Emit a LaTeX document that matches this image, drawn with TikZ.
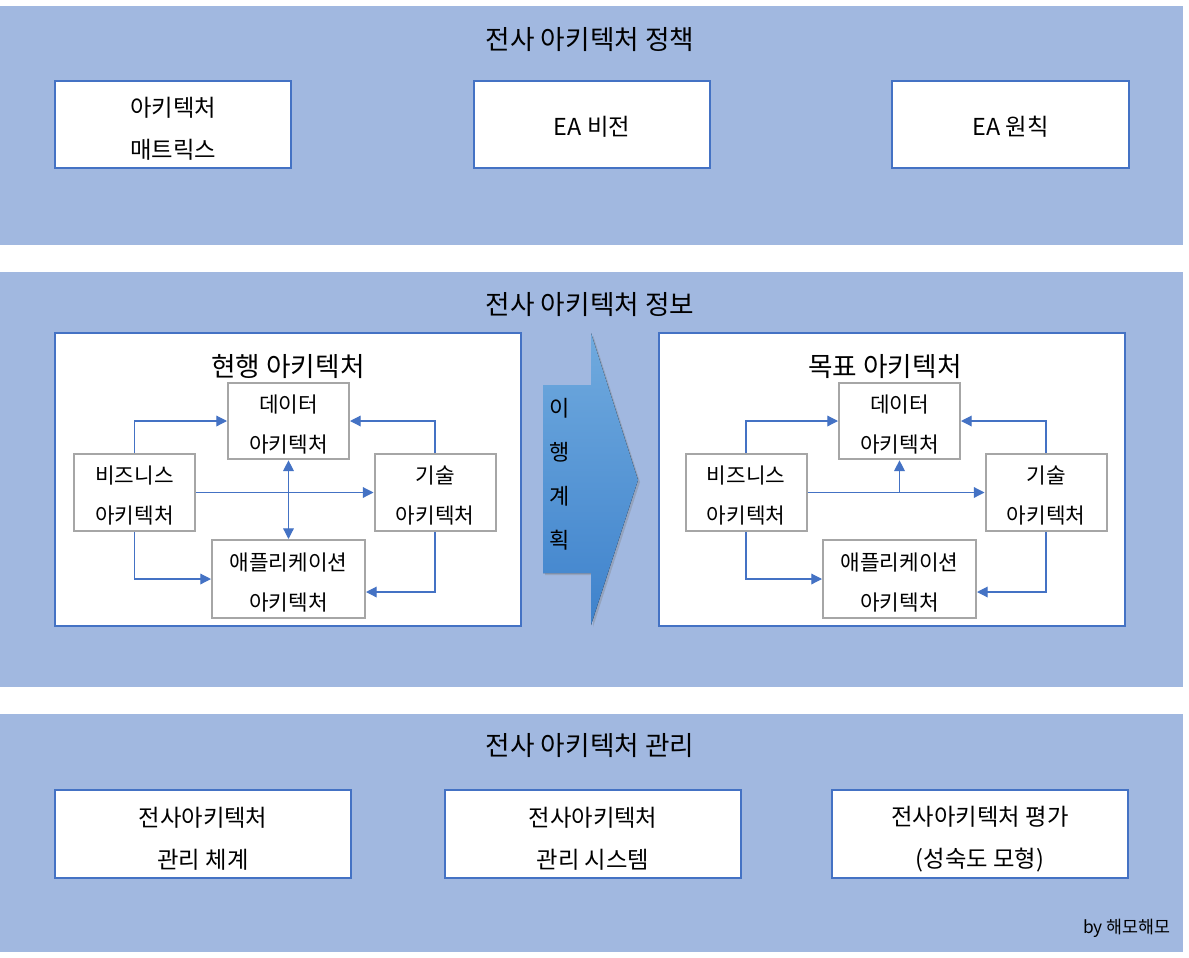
\documentclass[tikz,border=0pt]{standalone}
\usepackage{fontspec}
\setmainfont{Noto Sans CJK KR}
\usetikzlibrary{arrows.meta,shadows}
\definecolor{band}{RGB}{161,184,224}
\definecolor{edgeblue}{RGB}{68,114,196}
\definecolor{boxgray}{RGB}{166,166,166}
\definecolor{arrtop}{RGB}{112,170,222}
\definecolor{arrbot}{RGB}{62,130,204}
\tikzset{
  bigbox/.style={draw=edgeblue,line width=1.6pt,fill=white,inner sep=0pt},
  panel/.style={draw=edgeblue,line width=1.4pt,fill=white,inner sep=0pt},
  subbox/.style={draw=boxgray,line width=1.5pt,fill=white,inner sep=0pt,
     minimum width=90.75pt,minimum height=57.5pt},
  bigtext/.style={align=center,inner sep=0pt,font=\fontsize{17.5pt}{31.5pt}\selectfont},
  subtext/.style={align=center,inner sep=0pt,font=\fontsize{16pt}{30pt}\selectfont},
  twoline/.style={label={[bigtext,yshift=-3.5pt]center:{#1}}},
  oneline/.style={label={[bigtext,yshift=-2pt]center:{#1}}},
  subline/.style={label={[subtext,yshift=-2.6pt]center:{#1}}},
  titletext/.style={font=\fontsize{20pt}{22pt}\selectfont,inner sep=0pt},
  conn/.style={draw=edgeblue,line width=0.9pt,-{Triangle[length=8pt,width=8pt]}},
  dconn/.style={draw=edgeblue,line width=0.9pt,{Triangle[length=8pt,width=8pt]}-{Triangle[length=8pt,width=8pt]}}
}
\begin{document}
\begin{tikzpicture}[x=0.75pt,y=-0.75pt]
\useasboundingbox (0,0) rectangle (1189,957);
% bands
\fill[band] (0,6) rectangle (1183,245);
\fill[band] (0,272) rectangle (1183,687);
\fill[band] (0,714) rectangle (1183,952);

% top band
\node[titletext] (t1) at (590,40) {전사 아키텍처 정책};
\node[bigbox,minimum width=177pt,minimum height=65.25pt,twoline={아키텍처\\매트릭스}] (a) at (173,124.5) {};
\node[bigbox,minimum width=177pt,minimum height=65.25pt,oneline={EA 비전}] (b) at (592,124.5) {};
\node[bigbox,minimum width=177.75pt,minimum height=65.25pt,oneline={EA 원칙}] (c) at (1010.5,124.5) {};

% middle band
\node[titletext] (t2) at (590,305) {전사 아키텍처 정보};
\node[panel,minimum width=349.5pt,minimum height=219.75pt] (pl) at (288,479.5) {};
\node[panel,minimum width=349.5pt,minimum height=219.75pt] (pr) at (892,479.5) {};

% transition arrow
\fill[shading=axis,top color=arrtop,bottom color=arrbot,drop shadow={opacity=0.35,shadow xshift=1.5pt,shadow yshift=-1.5pt}]
  (543,385) -- (591,385) -- (591,333) -- (638,480) -- (591,625) -- (591,573) -- (543,573) -- cycle;
\node[align=center,inner sep=0pt,font=\fontsize{16.5pt}{33pt}\selectfont] (plan) at (560,474) {이\\행\\계\\획};

% left architecture
\node[titletext] (cur) at (288,367) {현행 아키텍처};
\node[subbox,subline={데이터\\아키텍처}] (D1) at (288.5,421) {};
\node[subbox,subline={비즈니스\\아키텍처}] (B1) at (134.5,492.5) {};
\node[subbox,subline={기술\\아키텍처}] (T1) at (435,492.5) {};
\node[subbox,minimum width=114.75pt,minimum height=58.5pt,subline={애플리케이션\\아키텍처}] (A1) at (288.5,579) {};
\draw[conn] (B1.north) |- (D1.west);
\draw[conn] (T1.north) |- (D1.east);
\draw[conn] (B1.east) -- (T1.west);
\draw[dconn] (D1.south) -- (A1.north);
\draw[conn] (B1.south) |- (A1.west);
\coordinate (A1r) at ([yshift=-9.75pt]A1.east);
\draw[conn] (T1.south) |- (A1r);

% right architecture
\node[titletext] (tgt) at (885,367) {목표 아키텍처};
\node[subbox,subline={데이터\\아키텍처}] (D2) at (899.5,421) {};
\node[subbox,subline={비즈니스\\아키텍처}] (B2) at (746,492.5) {};
\node[subbox,subline={기술\\아키텍처}] (T2) at (1046,492.5) {};
\node[subbox,minimum width=114.75pt,minimum height=58.5pt,subline={애플리케이션\\아키텍처}] (A2) at (899.5,579) {};
\draw[conn] (B2.north) |- (D2.west);
\draw[conn] (T2.north) |- (D2.east);
\draw[conn] (B2.east) -- (T2.west);
\coordinate (J2) at (D2.south |- B2.east);
\draw[conn] (J2) -- (D2.south);
\draw[conn] (B2.south) |- (A2.west);
\coordinate (A2r) at ([yshift=-9.75pt]A2.east);
\draw[conn] (T2.south) |- (A2r);

% bottom band
\node[titletext] (t3) at (590,746) {전사 아키텍처 관리};
\node[bigbox,minimum width=222pt,minimum height=66pt,twoline={전사아키텍처\\관리 체계}] (e) at (203,834) {};
\node[bigbox,minimum width=222pt,minimum height=66pt,twoline={전사아키텍처\\관리 시스템}] (f) at (593,834) {};
\node[bigbox,minimum width=222pt,minimum height=66pt,twoline={전사아키텍처 평가\\(성숙도 모형)}] (g) at (980,834) {};
\node[inner sep=0pt,font=\fontsize{13pt}{15pt}\selectfont] (by) at (1127,928) {by 해모해모};
\end{tikzpicture}
\end{document}
